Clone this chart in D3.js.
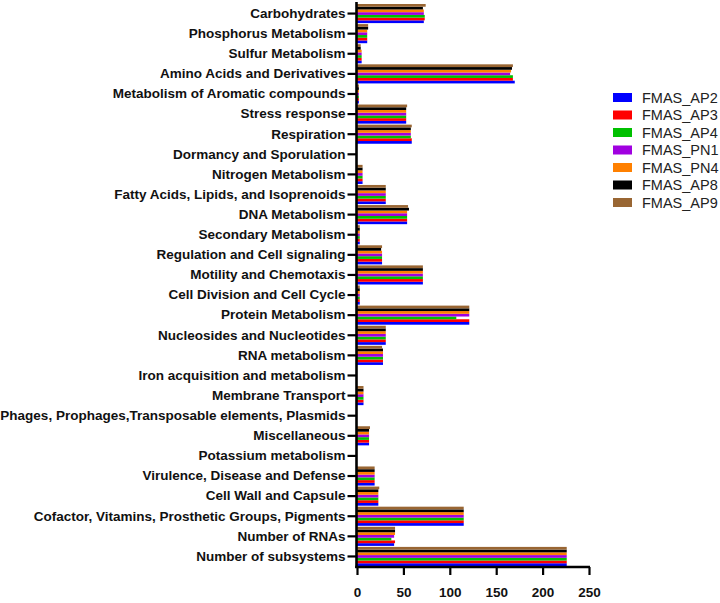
<!DOCTYPE html>
<html>
<head>
<meta charset="utf-8">
<script src="https://cdn.jsdelivr.net/npm/d3@7"></script>
<style>
  html, body { margin: 0; padding: 0; background: #fff; }
  svg { display: block; }
</style>
</head>
<body>
<svg id="chart" width="720" height="603"></svg>
<script>
const categories = [
  "Carbohydrates",
  "Phosphorus Metabolism",
  "Sulfur Metabolism",
  "Amino Acids and Derivatives",
  "Metabolism of Aromatic compounds",
  "Stress response",
  "Respiration",
  "Dormancy and Sporulation",
  "Nitrogen Metabolism",
  "Fatty Acids, Lipids, and Isoprenoids",
  "DNA Metabolism",
  "Secondary Metabolism",
  "Regulation and Cell signaling",
  "Motility and Chemotaxis",
  "Cell Division and Cell Cycle",
  "Protein Metabolism",
  "Nucleosides and Nucleotides",
  "RNA metabolism",
  "Iron acquisition and metabolism",
  "Membrane Transport",
  "Phages, Prophages,Transposable elements, Plasmids",
  "Miscellaneous",
  "Potassium metabolism",
  "Virulence, Disease and Defense",
  "Cell Wall and Capsule",
  "Cofactor, Vitamins, Prosthetic Groups, Pigments",
  "Number of RNAs",
  "Number of subsystems"
];

const seriesNames = ["FMAS_AP2", "FMAS_AP3", "FMAS_AP4", "FMAS_PN1", "FMAS_PN4", "FMAS_AP8", "FMAS_AP9"];
const seriesColors = ["#0000ff", "#ff0000", "#00c000", "#a000e0", "#ff8000", "#000000", "#996633"];

const FMAS_AP2 = [72, 11, 5, 170, 2, 53, 59, 0, 6, 31, 54, 3, 27, 71, 3, 121, 31, 28, 0, 7, 0, 13, 0, 19, 23, 115, 40, 226];
const FMAS_AP3 = [73, 11, 5, 168, 2, 53, 59, 0, 6, 31, 54, 3, 27, 71, 3, 121, 31, 28, 0, 7, 0, 13, 0, 19, 23, 115, 41, 226];
const FMAS_AP4 = [73, 11, 5, 168, 2, 53, 58, 0, 6, 31, 54, 3, 27, 71, 3, 107, 31, 28, 0, 7, 0, 13, 0, 19, 23, 115, 37, 226];
const FMAS_PN1 = [72, 11, 5, 165, 2, 53, 58, 0, 6, 31, 54, 3, 27, 71, 3, 121, 31, 28, 0, 7, 0, 13, 0, 19, 23, 115, 40, 226];
const FMAS_PN4 = [72, 11, 5, 166, 2, 53, 58, 0, 6, 31, 54, 3, 27, 71, 3, 121, 31, 28, 0, 7, 0, 13, 0, 19, 23, 115, 41, 226];
const FMAS_AP8 = [71, 12, 4, 167, 2, 53, 58, 0, 6, 31, 56, 3, 26, 71, 3, 121, 31, 28, 0, 7, 0, 13, 0, 19, 23, 115, 41, 226];
const FMAS_AP9 = [74, 12, 4, 168, 2, 54, 59, 0, 6, 31, 55, 3, 27, 71, 3, 121, 31, 27, 0, 7, 0, 14, 0, 19, 24, 115, 41, 226];

const xTicks = [0, 50, 100, 150, 200, 250];

const seriesValues = [FMAS_AP2, FMAS_AP3, FMAS_AP4, FMAS_PN1, FMAS_PN4, FMAS_AP8, FMAS_AP9];

const svg = d3.select("#chart");
const x0 = 357, x1 = 589;
const yTop = 4, yBot = 566;

const x = d3.scaleLinear().domain([0, 250]).range([x0, x1]);
const y = d3.scaleBand().domain(categories).range([yTop, yBot]).paddingInner(0.05).paddingOuter(0);
// within group: AP9 top, AP2 bottom
const inner = d3.scaleBand().domain(seriesNames.slice().reverse()).range([0, y.bandwidth()]).padding(0);

const data = [];
categories.forEach((c, i) => {
  seriesNames.forEach((s, j) => {
    data.push({cat: c, series: s, color: seriesColors[j], value: seriesValues[j][i]});
  });
});

svg.append("g").selectAll("rect")
  .data(data.filter(d => d.value > 0))
  .join("rect")
  .attr("x", x(0))
  .attr("y", d => y(d.cat) + inner(d.series))
  .attr("width", d => x(d.value) - x(0))
  .attr("height", inner.bandwidth())
  .attr("fill", d => d.color);

// Y axis
const yAxis = d3.axisLeft(y).tickSize(9).tickPadding(2);
const gy = svg.append("g").attr("transform", `translate(${x0 - 0.5},0)`).call(yAxis);
gy.select(".domain").remove();
gy.selectAll(".tick line").attr("stroke", "#000").attr("stroke-width", 2.2);
gy.selectAll(".tick text")
  .attr("fill", "#111")
  .style("font-family", "Liberation Sans, Arial, sans-serif")
  .style("font-weight", "bold")
  .style("font-size", "13.5px");
svg.append("line")
  .attr("x1", x0 - 0.5).attr("x2", x0 - 0.5)
  .attr("y1", 2).attr("y2", yBot + 2)
  .attr("stroke", "#000").attr("stroke-width", 2.6);

// X axis
const xAxis = d3.axisBottom(x).tickValues(xTicks).tickSize(8).tickPadding(12);
const gx = svg.append("g").attr("transform", `translate(0,${yBot + 1})`).call(xAxis);
gx.select(".domain").attr("stroke", "#000").attr("stroke-width", 2.6).attr("d", `M${x0 - 1.8},0H${x1 + 1}`);
gx.selectAll(".tick line").attr("stroke", "#000").attr("stroke-width", 2.2);
gx.selectAll(".tick text")
  .attr("fill", "#111")
  .style("font-family", "Liberation Sans, Arial, sans-serif")
  .style("font-weight", "bold")
  .style("font-size", "13.5px");

// Legend
const legend = svg.append("g").attr("transform", "translate(613,97.5)");
const rowH = 17.5;
const items = legend.selectAll("g").data(seriesNames).join("g")
  .attr("transform", (d, i) => `translate(0,${i * rowH})`);
items.append("rect")
  .attr("x", 0).attr("y", -4.5).attr("width", 19).attr("height", 9)
  .attr("fill", (d, i) => seriesColors[i]);
items.append("text")
  .attr("x", 29).attr("y", 0).attr("dy", "0.36em")
  .attr("fill", "#222")
  .style("font-family", "Liberation Sans, Arial, sans-serif")
  .style("font-size", "14.5px")
  .text(d => d);
</script>
</body>
</html>
